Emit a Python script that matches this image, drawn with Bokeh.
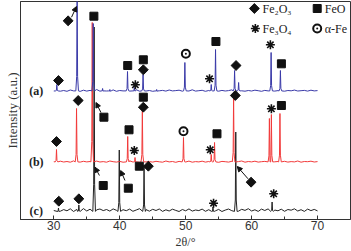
from bokeh.plotting import figure
from bokeh.models import Range1d, FixedTicker, Arrow, NormalHead
from bokeh.core.properties import value
from bokeh.embed import file_html
from bokeh.resources import INLINE
import numpy as np

# ---------------- data ----------------
two_theta_start = 30.0
two_theta_step = 0.5

# baseline noise (intensity units) on a 0.5 deg grid from 30 to 70
noise_a = [0.5, 1.2, 0.3, 1.0, 0.2, 1.5, 0.6, 0.9, 0.1, 1.3,
           0.4, 1.1, 0.7, 2.0, 0.3, 1.4, 0.5, 0.8, 1.6, 0.2,
           1.0, 0.6, 1.3, 0.4, 0.9, 1.8, 0.3, 1.2, 0.5, 1.0,
           0.2, 1.4, 0.7, 1.1, 0.4, 1.5, 0.6, 0.9, 1.3, 0.3,
           1.0, 0.5, 1.7, 0.4, 0.8, 1.2, 0.2, 1.0, 0.6, 1.4,
           0.3, 1.1, 0.5, 0.9, 1.6, 0.4, 1.2, 0.7, 0.3, 1.0,
           0.5, 1.3, 0.8, 0.2, 1.1, 0.6, 1.5, 0.4, 0.9, 1.2,
           0.3, 1.0, 0.7, 1.4, 0.5, 0.8, 1.1, 0.4, 1.3, 0.6,
           0.9]
noise_b = [0.8, 0.2, 1.3, 0.5, 1.0, 0.3, 1.6, 0.7, 0.4, 1.2,
           0.6, 1.0, 0.2, 1.4, 0.5, 0.9, 0.3, 1.5, 0.8, 0.4,
           1.1, 0.3, 0.9, 1.7, 0.5, 1.0, 0.2, 1.3, 0.6, 0.9,
           0.4, 1.2, 0.7, 0.3, 1.5, 0.6, 1.0, 0.2, 1.1, 0.8,
           0.5, 1.4, 0.3, 0.9, 0.6, 1.3, 0.4, 1.0, 0.7, 1.6,
           0.2, 1.1, 0.8, 0.4, 1.2, 0.5, 0.9, 1.5, 0.3, 1.0,
           0.6, 1.3, 0.4, 0.8, 1.1, 0.2, 1.4, 0.7, 1.0, 0.5,
           1.2, 0.4, 0.9, 0.6, 1.5, 0.3, 1.0, 0.8, 1.3, 0.5,
           0.9]
noise_c = [1.5, 3.0, 0.8, 2.4, 1.2, 3.2, 0.5, 2.6, 1.8, 3.4,
           1.0, 2.8, 0.6, 2.2, 3.0, 1.4, 2.5, 0.9, 3.1, 1.7,
           0.4, 2.3, 1.3, 2.9, 0.7, 2.0, 3.3, 1.1, 2.4, 0.8,
           2.7, 1.5, 3.0, 0.6, 2.2, 1.0, 2.8, 1.6, 0.5, 2.5,
           1.2, 3.1, 0.9, 2.0, 1.4, 2.9, 0.7, 2.3, 3.2, 1.1,
           2.6, 0.5, 1.9, 3.0, 1.3, 2.4, 0.8, 2.7, 1.6, 3.3,
           1.0, 2.2, 0.6, 2.9, 1.5, 3.1, 0.9, 2.0, 1.2, 2.8,
           0.7, 2.5, 1.8, 3.2, 1.0, 2.3, 0.6, 2.9, 1.4, 2.6,
           1.1]

# vertical offsets of the three patterns
offset_a = 128.0
offset_b = 57.0
offset_c = 7.5

# peak positions (2theta) and heights above baseline
peaks_a_pos = [30.46, 33.54, 35.98, 37.4, 38.5, 41.18, 42.21, 43.54, 45.6, 49.88,
               53.88, 54.53, 57.42, 58.03, 62.96, 64.37]
peaks_a_h = [7, 100, 68, 3, 2, 20, 4, 17, 2, 29, 7, 42, 21, 9, 39, 21]

peaks_b_pos = [30.41, 33.45, 35.83, 41.21, 42.32, 43.43, 49.67, 53.88, 54.38, 57.27,
               62.7, 63.0, 64.30]
peaks_b_h = [13, 54, 140, 26, 5, 53, 25, 8, 20, 66, 44, 48, 49]

peaks_c_pos = [30.71, 33.80, 36.12, 39.93, 43.69, 54.14, 57.60, 63.11]
peaks_c_h = [4, 7, 185, 62, 47, 5, 80, 10]

# phase markers (2theta, intensity level)
fe2o3_x = [32.17, 30.71, 43.58, 57.64, 30.41, 33.70, 43.58, 57.53, 30.76, 33.80, 44.34, 59.92]
fe2o3_y = [198.7, 139.0, 149.7, 154.0, 78.0, 119.0, 112.3, 124.0, 18.3, 20.7, 53.3, 37.3]
feo_x = [36.08, 41.21, 43.58, 54.59, 64.52, 37.60, 41.41, 43.58, 54.75, 64.52, 37.50, 41.30, 42.97]
feo_y = [203.3, 154.0, 159.7, 178.0, 155.7, 102.3, 89.7, 122.3, 85.7, 114.0, 34.0, 31.3, 53.3]
fe3o4_x = [42.37, 53.62, 62.85, 42.21, 53.73, 63.00, 54.23, 63.35]
fe3o4_y = [134.7, 140.7, 174.7, 69.0, 69.7, 110.7, 16.3, 25.7]
alpha_fe_x = [50.03, 49.67]
alpha_fe_y = [165.7, 88.3]

# arrows (start -> peak)
arrow_x0 = [32.69, 37.15, 36.92, 40.80, 59.46]
arrow_y0 = [202.3, 107.0, 44.0, 39.0, 40.7]
arrow_x1 = [33.45, 36.39, 36.24, 40.14, 57.83]
arrow_y1 = [213.0, 117.0, 52.3, 49.0, 53.0]

curve_labels = ["(a)", "(b)", "(c)"]
curve_label_y = [129.0, 58.0, 9.0]

legend_names = ["Fe\u2082O\u2083", "FeO", "Fe\u2083O\u2084", "\u03b1-Fe"]

x_ticks = [30, 40, 50, 60, 70]
x_minor = [35, 45, 55, 65]


def build(offset, noise, pos, hts):
    grid = [two_theta_start + two_theta_step * i for i in range(len(noise))]
    pts = []
    for gx, n in zip(grid, noise):
        if min(abs(gx - c) for c in pos) > 0.22:
            pts.append((gx, offset + n))
    for c, h in zip(pos, hts):
        pts += [(c - 0.2, offset + 0.6), (c - 0.07, offset + 0.15 * h),
                (c, offset + h), (c + 0.07, offset + 0.15 * h), (c + 0.2, offset + 0.6)]
    pts.sort()
    return [q[0] for q in pts], [q[1] for q in pts]


xa, ya = build(offset_a, noise_a, peaks_a_pos, peaks_a_h)
xb, yb = build(offset_b, noise_b, peaks_b_pos, peaks_b_h)
xc, yc = build(offset_c, noise_c, peaks_c_pos, peaks_c_h)

# ---------------- figure ----------------
p = figure(width=351, height=251, output_backend="svg", toolbar_location=None,
           x_range=Range1d(24.95, 75.0), y_range=Range1d(0, 218),
           min_border_left=20, min_border_right=1, min_border_top=1, min_border_bottom=32)
p.grid.visible = False
p.outline_line_color = "#333333"
p.outline_line_width = 1
p.background_fill_color = "white"
p.border_fill_color = "white"

p.line(xc, yc, color="#222222", line_width=1)
p.line(xb, yb, color="#F23A3A", line_width=1)
p.line(xa, ya, color="#3A3AA8", line_width=1)

mk = "#111111"
p.scatter(fe2o3_x, fe2o3_y, marker="square", angle=np.pi / 4, size=7, color=mk)
p.scatter(feo_x, feo_y, marker="square", size=8, color=mk)
p.scatter(fe3o4_x, fe3o4_y, marker="asterisk", size=9, line_color=mk, line_width=1.6)
p.scatter(alpha_fe_x, alpha_fe_y, marker="circle_dot", size=8, line_color=mk,
          fill_color="white", line_width=2)

for x0, y0, x1, y1 in zip(arrow_x0, arrow_y0, arrow_x1, arrow_y1):
    p.add_layout(Arrow(x_start=x0, y_start=y0, x_end=x1, y_end=y1, line_width=1,
                       line_color=mk,
                       end=NormalHead(size=5, fill_color=mk, line_color=mk, line_width=1)))

# curve labels
p.text(x=[27.34] * 3, y=curve_label_y, text=curve_labels, text_font=value("Liberation Serif"),
       text_font_style="bold", text_font_size="12px", text_align="center",
       text_baseline="middle", text_color="#222222")

# legend
p.scatter([60.42], [211], marker="square", angle=np.pi / 4, size=7, color=mk)
p.scatter([69.95], [211], marker="square", size=8, color=mk)
p.scatter([60.57], [191], marker="asterisk", size=9, line_color=mk, line_width=1.6)
p.scatter([69.95], [191], marker="circle_dot", size=8, line_color=mk, fill_color="white",
          line_width=2)
p.text(x=[61.65, 71.1, 61.65, 71.1], y=[211, 211, 191, 191], text=legend_names,
       text_font=value("Liberation Serif"), text_font_size="12px", text_align="left",
       text_baseline="middle", text_color="#222222")

# axes
xa_ = p.xaxis[0]
xa_.ticker = FixedTicker(ticks=x_ticks, minor_ticks=x_minor)
xa_.major_tick_in = 4
xa_.major_tick_out = 0
xa_.minor_tick_in = 3
xa_.minor_tick_out = 0
xa_.major_label_standoff = 1
xa_.major_label_text_font = "Liberation Sans"
xa_.major_label_text_font_size = "12px"
xa_.major_label_text_color = "#333333"
xa_.axis_label = "2\u03b8/\u00b0"
xa_.axis_label_text_font = "Liberation Serif"
xa_.axis_label_text_font_style = "normal"
xa_.axis_label_text_font_size = "12px"
xa_.axis_label_text_color = "#333333"
xa_.axis_label_standoff = 2
xa_.axis_line_color = "#333333"
xa_.major_tick_line_color = "#333333"
xa_.minor_tick_line_color = "#333333"

ya_ = p.yaxis[0]
ya_.ticker = FixedTicker(ticks=[])
ya_.major_tick_in = 0
ya_.major_tick_out = 0
ya_.minor_tick_in = 0
ya_.minor_tick_out = 0
ya_.major_label_standoff = 0
ya_.axis_label = "Intensity (a.u.)"
ya_.axis_label_text_font = "Liberation Serif"
ya_.axis_label_text_font_style = "normal"
ya_.axis_label_text_font_size = "13px"
ya_.axis_label_text_color = "#333333"
ya_.axis_label_standoff = 1
ya_.axis_line_color = "#333333"

open("out.html", "w").write(file_html(p, INLINE))
